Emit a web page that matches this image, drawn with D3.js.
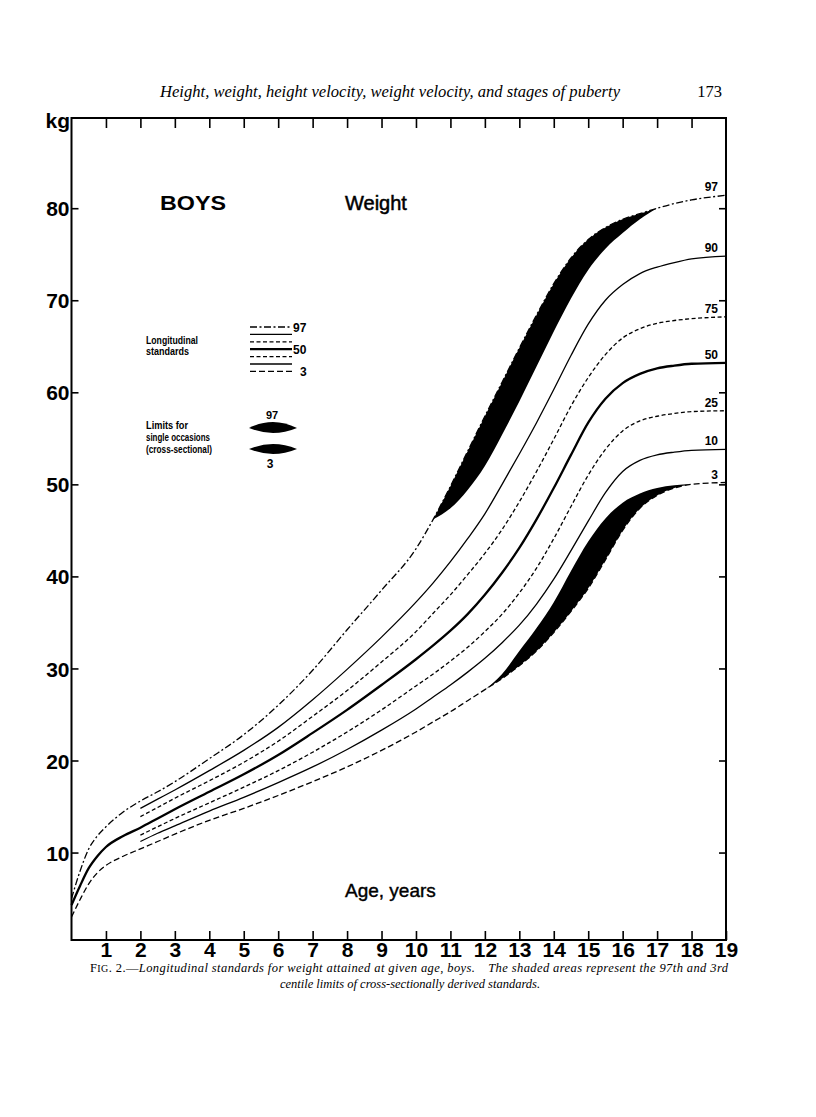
<!DOCTYPE html>
<html><head><meta charset="utf-8">
<script src="https://cdn.jsdelivr.net/npm/d3@7"></script>
<style>body{margin:0;background:#fff}svg{display:block}</style>
</head><body>
<svg id="c" width="816" height="1117"></svg>
<script>
// ---- data ----
const ages = [0,0.25,0.5,0.75,1,1.5,2,2.5,3,4,5,6,7,8,9,10,10.5,11,11.5,12,12.5,13,13.5,14,14.5,15,15.5,16,16.5,17,17.5,18,19];
const p97 = [5.0,8.0,10.4,11.8,12.8,14.4,15.6,16.6,17.7,20.2,22.8,26.0,29.8,34.2,38.5,43.0,46.2,49.8,53.6,57.4,61.1,64.8,68.4,71.8,74.6,76.6,77.9,78.8,79.4,80.0,80.5,80.9,81.4];
const p90 = [null,null,null,null,null,null,14.8,15.8,16.8,18.9,21.1,23.6,26.6,29.9,33.4,37.2,39.3,41.6,44.1,46.8,50.0,53.3,56.7,60.3,64.0,67.4,70.0,71.7,72.9,73.6,74.1,74.5,74.8];
const p75 = [null,null,null,null,null,null,13.9,14.9,15.9,17.8,19.8,22.1,24.8,27.6,30.7,34.0,36.0,38.0,40.2,42.5,45.1,48.1,51.4,54.9,58.5,61.6,64.1,65.9,66.9,67.5,67.8,68.0,68.2];
const p50 = [4.3,6.4,8.3,9.6,10.6,11.8,12.7,13.7,14.7,16.6,18.5,20.6,23.0,25.5,28.2,31.0,32.5,34.1,35.9,38.0,40.4,43.1,46.2,49.6,53.2,56.7,59.3,61.0,62.0,62.6,62.9,63.1,63.2];
const p25 = [null,null,null,null,null,null,11.9,12.8,13.7,15.4,17.1,18.9,20.9,23.1,25.5,28.1,29.4,30.8,32.3,34.0,35.9,38.2,40.9,44.1,47.6,51.0,53.8,55.8,56.9,57.4,57.7,57.9,58.0];
const p10 = [null,null,null,null,null,null,11.2,12.1,12.9,14.5,16.0,17.6,19.3,21.2,23.3,25.6,26.9,28.2,29.6,31.1,32.8,34.7,37.0,39.7,42.8,46.0,49.1,51.4,52.6,53.2,53.5,53.7,53.8];
const p3  = [3.0,4.9,6.6,7.8,8.6,9.6,10.4,11.2,12.0,13.5,14.8,16.2,17.7,19.3,21.1,23.1,24.2,25.3,26.5,27.7,28.9,30.3,31.9,33.9,36.2,38.7,41.8,45.0,47.4,48.8,49.6,50.0,50.2];
// cross-sectional limits (edges of the shaded areas)
const cs97 = [null,null,null,null,null,null,null,null,null,null,null,null,null,null,null,null,46.2,47.4,49.4,52.0,55.4,59.0,62.8,66.6,70.2,73.3,75.6,77.3,78.8,80.0,null,null,null];
const cs3  = [null,null,null,null,null,null,null,null,null,null,null,null,null,null,null,null,null,null,null,27.7,29.4,31.9,34.4,37.2,40.6,43.8,46.3,48.0,49.0,49.6,49.9,50.0,null];
const xTicks = [1,2,3,4,5,6,7,8,9,10,11,12,13,14,15,16,17,18,19];
const yTicks = [10,20,30,40,50,60,70,80];

// ---- styles ----
const series = [
  {name:"97", v:p97, w:1.3, dash:"7,2.5,2,2.5"},
  {name:"90", v:p90, w:1.3, dash:null},
  {name:"75", v:p75, w:1.3, dash:"4,2.5"},
  {name:"50", v:p50, w:2.3, dash:null},
  {name:"25", v:p25, w:1.3, dash:"4,2.5"},
  {name:"10", v:p10, w:1.3, dash:null},
  {name:"3",  v:p3,  w:1.3, dash:"6,3"}
];
const sans = "'Liberation Sans', Arial, Helvetica, sans-serif";
const serif = "'Liberation Serif', 'Times New Roman', serif";

const svg = d3.select("#c");
svg.append("rect").attr("width",816).attr("height",1117).attr("fill","#fff");

const x = d3.scaleLinear().domain([0,19]).range([71.5,726]);
const y = d3.scaleLinear().domain([0.5,89.8]).range([940,118]);

// header
svg.append("text").attr("x",160).attr("y",97)
  .attr("font-family",serif).attr("font-style","italic").attr("font-size",16.5)
  .attr("textLength",460).attr("lengthAdjust","spacingAndGlyphs")
  .text("Height, weight, height velocity, weight velocity, and stages of puberty");
svg.append("text").attr("x",722).attr("y",97).attr("text-anchor","end")
  .attr("font-family",serif).attr("font-size",16.5).text("173");

// shaded bands
function band(l, cs){
  const pts = ages.map((a,i)=>[a,l[i],cs[i]]);
  return d3.area().defined(d=>d[2]!=null && d[1]!=null)
    .x(d=>x(d[0])).y0(d=>y(d[2])).y1(d=>y(d[1])).curve(d3.curveMonotoneX)(pts);
}
svg.append("path").attr("d",band(p97,cs97)).attr("fill","#000");
svg.append("path").attr("d",band(p3,cs3)).attr("fill","#000");

// lines
const line = d3.line().defined(d=>d[1]!=null).x(d=>x(d[0])).y(d=>y(d[1])).curve(d3.curveMonotoneX);
series.forEach(s=>{
  svg.append("path").attr("d",line(ages.map((a,i)=>[a,s.v[i]])))
    .attr("fill","none").attr("stroke","#000").attr("stroke-width",s.w)
    .attr("stroke-dasharray",s.dash);
  const last = s.v[s.v.length-1];
  svg.append("text").attr("x",x(19)-8).attr("y",y(last)-4).attr("text-anchor","end")
    .attr("font-family",sans).attr("font-weight","bold").attr("font-size",12).text(s.name);
});

// frame
svg.append("rect").attr("x",x(0)).attr("y",y(89.8)).attr("width",x(19)-x(0)).attr("height",y(0.5)-y(89.8))
  .attr("fill","none").attr("stroke","#000").attr("stroke-width",2);

// axes
function styleAxis(g){
  g.select(".domain").remove();
  g.selectAll(".tick line").attr("stroke","#000").attr("stroke-width",1.6);
  g.selectAll(".tick text").attr("font-family",sans).attr("font-weight","bold").attr("font-size",21).attr("fill","#000");
}
const gb = svg.append("g").attr("transform",`translate(0,${y(0.5)})`)
  .call(d3.axisBottom(x).tickValues(xTicks).tickSize(-9).tickPadding(3).tickFormat(d3.format("d")));
styleAxis(gb);
gb.selectAll(".tick text").attr("dy",null).attr("y",17);
const gt = svg.append("g").attr("transform",`translate(0,${y(89.8)})`)
  .call(d3.axisTop(x).tickValues(xTicks.slice(0,-1)).tickSize(-10).tickFormat(""));
styleAxis(gt);
const gl = svg.append("g").attr("transform",`translate(${x(0)},0)`)
  .call(d3.axisLeft(y).tickValues(yTicks).tickSize(-7).tickPadding(2).tickFormat(d3.format("d")));
styleAxis(gl);
gl.selectAll(".tick text").attr("dy","0.36em");
const gr = svg.append("g").attr("transform",`translate(${x(19)},0)`)
  .call(d3.axisRight(y).tickValues(yTicks).tickSize(-7).tickFormat(""));
styleAxis(gr);

svg.append("text").attr("x",70).attr("y",128).attr("text-anchor","end")
  .attr("font-family",sans).attr("font-weight","bold").attr("font-size",21).text("kg");

// titles in plot
svg.append("text").attr("x",160).attr("y",210).attr("font-family",sans).attr("font-weight","bold")
  .attr("font-size",20).attr("textLength",66).attr("lengthAdjust","spacingAndGlyphs").text("BOYS");
svg.append("text").attr("x",345).attr("y",210).attr("font-family",sans)
  .attr("font-size",20).attr("stroke","#000").attr("stroke-width",0.5).text("Weight");
svg.append("text").attr("x",345).attr("y",897).attr("font-family",sans)
  .attr("font-size",19).attr("stroke","#000").attr("stroke-width",0.4).text("Age, years");

// legend
const lg = svg.append("g");
lg.append("text").attr("x",146).attr("y",344).attr("font-family",sans).attr("font-weight","bold")
  .attr("font-size",11).attr("textLength",52).attr("lengthAdjust","spacingAndGlyphs").text("Longitudinal");
lg.append("text").attr("x",146).attr("y",355).attr("font-family",sans).attr("font-weight","bold")
  .attr("font-size",11).attr("textLength",43).attr("lengthAdjust","spacingAndGlyphs").text("standards");
series.forEach((s,i)=>{
  const yy = 327 + i*7.4;
  lg.append("line").attr("x1",250).attr("x2",292).attr("y1",yy).attr("y2",yy)
    .attr("stroke","#000").attr("stroke-width",s.w).attr("stroke-dasharray",s.dash);
});
[["97",327],["50",349.2],["3",371.4]].forEach(([t,yy])=>{
  lg.append("text").attr("x",t==="3"?300:293).attr("y",yy+4.5).attr("font-family",sans).attr("font-weight","bold")
    .attr("font-size",12).text(t);
});
["Limits for","single occasions","(cross-sectional)"].forEach((t,i)=>{
  lg.append("text").attr("x",146).attr("y",429+i*12).attr("font-family",sans).attr("font-weight","bold")
    .attr("font-size",11).attr("textLength",[42,64,66][i]).attr("lengthAdjust","spacingAndGlyphs").text(t);
});
lg.append("path").attr("d","M249,428 Q273,416 297,428 Q273,438 249,428 Z").attr("fill","#000");
lg.append("path").attr("d","M249,449 Q273,439 297,449 Q273,459 249,449 Z").attr("fill","#000");
lg.append("text").attr("x",272).attr("y",419).attr("text-anchor","middle").attr("font-family",sans)
  .attr("font-weight","bold").attr("font-size",11).text("97");
lg.append("text").attr("x",270).attr("y",468).attr("text-anchor","middle").attr("font-family",sans)
  .attr("font-weight","bold").attr("font-size",12).text("3");

// caption
const c1 = svg.append("text").attr("x",90).attr("y",972).attr("font-family",serif).attr("font-size",12.5)
  .attr("textLength",638).attr("lengthAdjust","spacing");
c1.append("tspan").text("F");
c1.append("tspan").attr("font-size",10).text("IG");
c1.append("tspan").text(". 2.—");
c1.append("tspan").attr("font-style","italic").text("Longitudinal standards for weight attained at given age, boys.\u2003The shaded areas represent the 97th and 3rd");
svg.append("text").attr("x",410).attr("y",988).attr("text-anchor","middle").attr("font-family",serif)
  .attr("font-style","italic").attr("font-size",12.5).text("centile limits of cross-sectionally derived standards.");
</script>
</body></html>
